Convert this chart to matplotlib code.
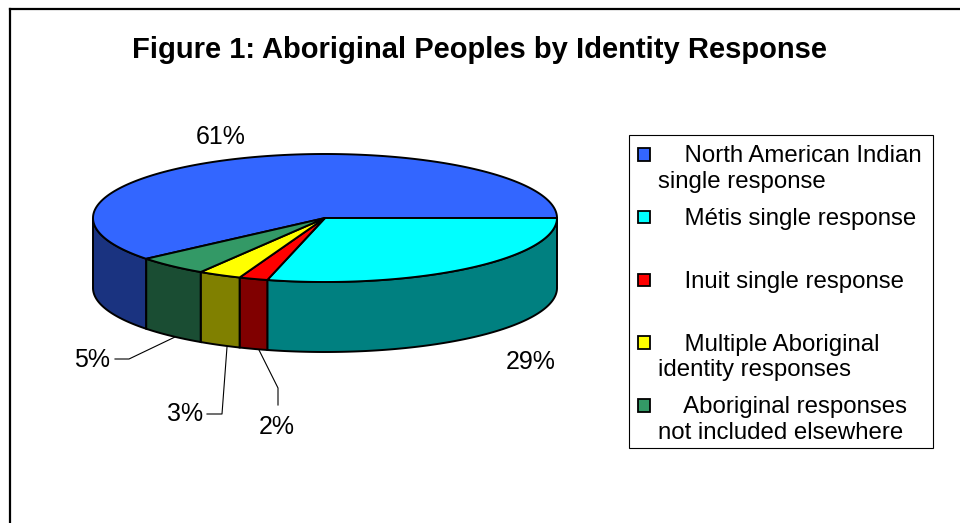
import numpy as np
import matplotlib.pyplot as plt
from matplotlib.patches import Polygon, Rectangle
from matplotlib.colors import to_rgb

plt.rcParams['font.family'] = ['Liberation Sans', 'DejaVu Sans']

# data
categories = ["North American Indian\nsingle response",
              "Métis single response",
              "Inuit single response",
              "Multiple Aboriginal\nidentity responses",
              "Aboriginal responses\nnot included elsewhere"]
shares = [61, 29, 2, 3, 5]
pct_labels = ["61%", "29%", "2%", "3%", "5%"]
colors = ["#3366FF", "#00FFFF", "#FF0000", "#FFFF00", "#339966"]

# 3d pie geometry, in pixels
cx, cy, rx, ry, depth = 325, 218, 232, 64, 70
start = 219.6  # first slice angle, slices run clockwise

# label spots (baseline) and leader lines
label_pos = [(221, 144), (531, 369), (277, 434), (185, 421), (92, 367)]
leaders = {2: [(278, 405), (278, 388), (259, 350)],
           3: [(207, 414), (222, 414), (227, 347)],
           4: [(115, 359), (129, 359), (175, 337)]}


def arc(t0, t1, dy=0):
    n = max(int(abs(t1 - t0) * 2), 2)
    t = np.radians(np.linspace(t0, t1, n))
    return np.column_stack([cx + rx * np.cos(t), cy + dy - ry * np.sin(t)])


fig = plt.figure(figsize=(9.6, 5.23), dpi=100)
ax = fig.add_axes([0, 0, 1, 1])
ax.set_xlim(0, 960)
ax.set_ylim(523, 0)
ax.axis('off')

total = float(sum(shares))
cum = np.concatenate([[0], np.cumsum(shares)]) / total * 360
lw = 1.4

# side walls (front half only)
for i, c in enumerate(colors):
    hi = start - cum[i]
    lo = start - cum[i + 1]
    dark = tuple(v * 0.5 for v in to_rgb(c))
    for k in (-1, 0, 1):
        s = max(lo, -180 + 360 * k)
        e = min(hi, 360 * k)
        if e - s > 1e-6:
            pts = np.vstack([arc(s, e), arc(e, s, depth)])
            ax.add_patch(Polygon(pts, closed=True, facecolor=dark,
                                 edgecolor='black', lw=lw, joinstyle='miter'))

# top faces
for i, c in enumerate(colors):
    hi = start - cum[i]
    lo = start - cum[i + 1]
    pts = np.vstack([[cx, cy], arc(hi, lo)])
    ax.add_patch(Polygon(pts, closed=True, facecolor=c,
                         edgecolor='black', lw=lw, joinstyle='miter'))

# percentage labels
for i, txt in enumerate(pct_labels):
    x, y = label_pos[i]
    ax.text(x, y, txt, ha='center', va='baseline', fontsize=18)
for i, pts in leaders.items():
    xs, ys = zip(*pts)
    ax.plot(xs, ys, color='black', lw=0.8)

# title
ax.text(480, 57.5, "Figure 1: Aboriginal Peoples by Identity Response",
        ha='center', va='baseline', fontsize=21, fontweight='bold')

# legend
ax.add_patch(Rectangle((629, 135), 304, 313, facecolor='white',
                       edgecolor='black', lw=0.8))
for i, (lab, c) in enumerate(zip(categories, colors)):
    top = 148 + i * 62.75
    ax.add_patch(Rectangle((637.5, top), 12.5, 12.5, facecolor=c,
                           edgecolor='black', lw=1.3))
    ax.text(658, top - 2.5, "    " + lab, ha='left', va='top',
            fontsize=17.3, linespacing=1.22, multialignment='left')

# chart area border
ax.plot([9.5, 960], [8.5, 8.5], color='black', lw=1.6)
ax.plot([9.5, 9.5], [8.5, 523], color='black', lw=1.6)

plt.savefig('out.png', dpi=100)
